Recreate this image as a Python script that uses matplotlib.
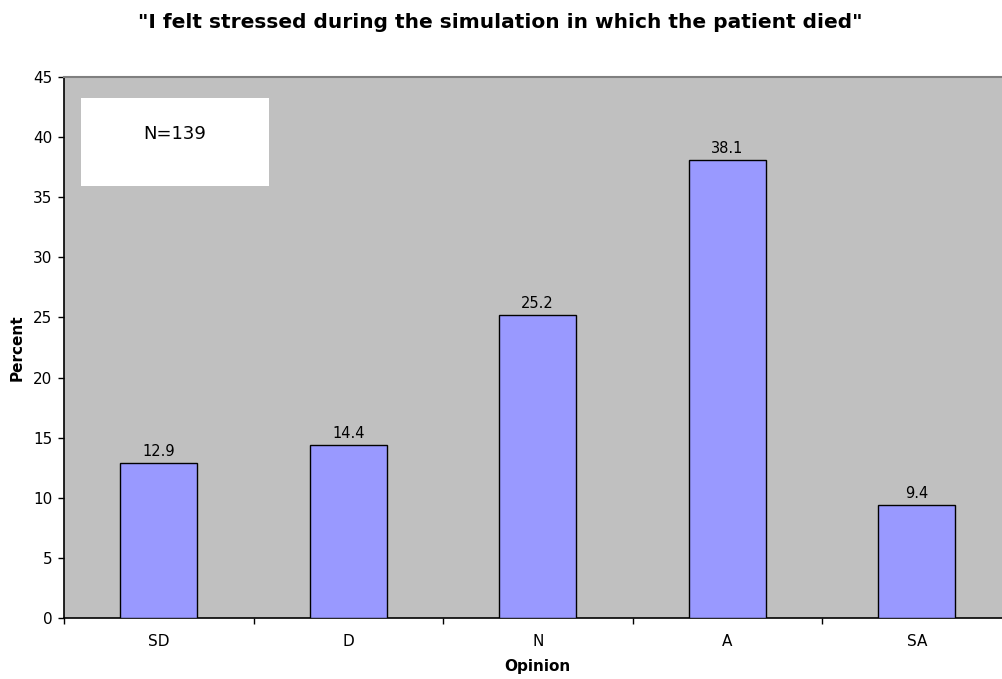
import matplotlib
matplotlib.use("Agg")
import matplotlib.pyplot as plt
from matplotlib.patches import Rectangle

categories = ["SD", "D", "N", "A", "SA"]
percent = [12.9, 14.4, 25.2, 38.1, 9.4]
yticks = [0, 5, 10, 15, 20, 25, 30, 35, 40, 45]
title = '"I felt stressed during the simulation in which the patient died"'
note = "N=139"

plt.rcParams['font.family'] = ['DejaVu Sans']

W, H = 1003, 679
L, R, T, B = 64, 1011.5, 77, 618
fig = plt.figure(figsize=(W / 100, H / 100), dpi=100)
ax = fig.add_axes([L / W, 1 - B / H, (R - L) / W, (B - T) / H])
ax.set_facecolor('#C0C0C0')
aw, ah = R - L, B - T

x = list(range(len(categories)))
ax.bar(x, percent, width=0.406, color='#9999FF', edgecolor='black', linewidth=1.0, zorder=3)
for xi, v in zip(x, percent):
    ax.annotate(f"{v}", (xi, v), xytext=(0, 3), textcoords='offset points',
                ha='center', va='bottom', fontsize=10.5)

ax.set_xlim(-0.5, len(categories) - 0.5)
ax.set_ylim(0, 45)
ax.set_yticks(yticks)
ax.set_xticks(x)
ax.set_xticklabels(categories)
ax.set_xticks([i - 0.5 for i in range(len(categories) + 1)], minor=True)
ax.tick_params(axis='x', which='major', length=0, pad=11.5, labelsize=11)
ax.tick_params(axis='x', which='minor', length=4.5, direction='out', width=1)
ax.tick_params(axis='y', length=4.5, direction='out', width=1, labelsize=11, pad=4)

for s in ['left', 'bottom']:
    ax.spines[s].set_color('black')
    ax.spines[s].set_linewidth(1.2)
ax.spines['top'].set_color('#808080')
ax.spines['top'].set_linewidth(1.5)
ax.spines['right'].set_visible(False)

ax.set_ylabel("Percent", fontsize=11, fontweight='bold', va='center')
ax.yaxis.set_label_coords((17.5 - L) / aw, 0.5)
ax.set_xlabel("Opinion", fontsize=11, fontweight='bold', va='center')
ax.xaxis.set_label_coords(0.5, (B - 667) / ah)

box = Rectangle((17 / aw, 1 - 109 / ah), 188 / aw, 88 / ah, transform=ax.transAxes,
                facecolor='white', edgecolor='none', zorder=4)
ax.add_patch(box)
ax.text((17 + 94) / aw, 1 - 57 / ah, note, transform=ax.transAxes, ha='center', va='center',
        fontsize=13, zorder=5)

fig.text((128 + 872) / 2 / W, 1 - 23 / H, title, ha='center', va='center',
         fontsize=14.5, fontweight='bold')

fig.savefig("out.png", dpi=100)
